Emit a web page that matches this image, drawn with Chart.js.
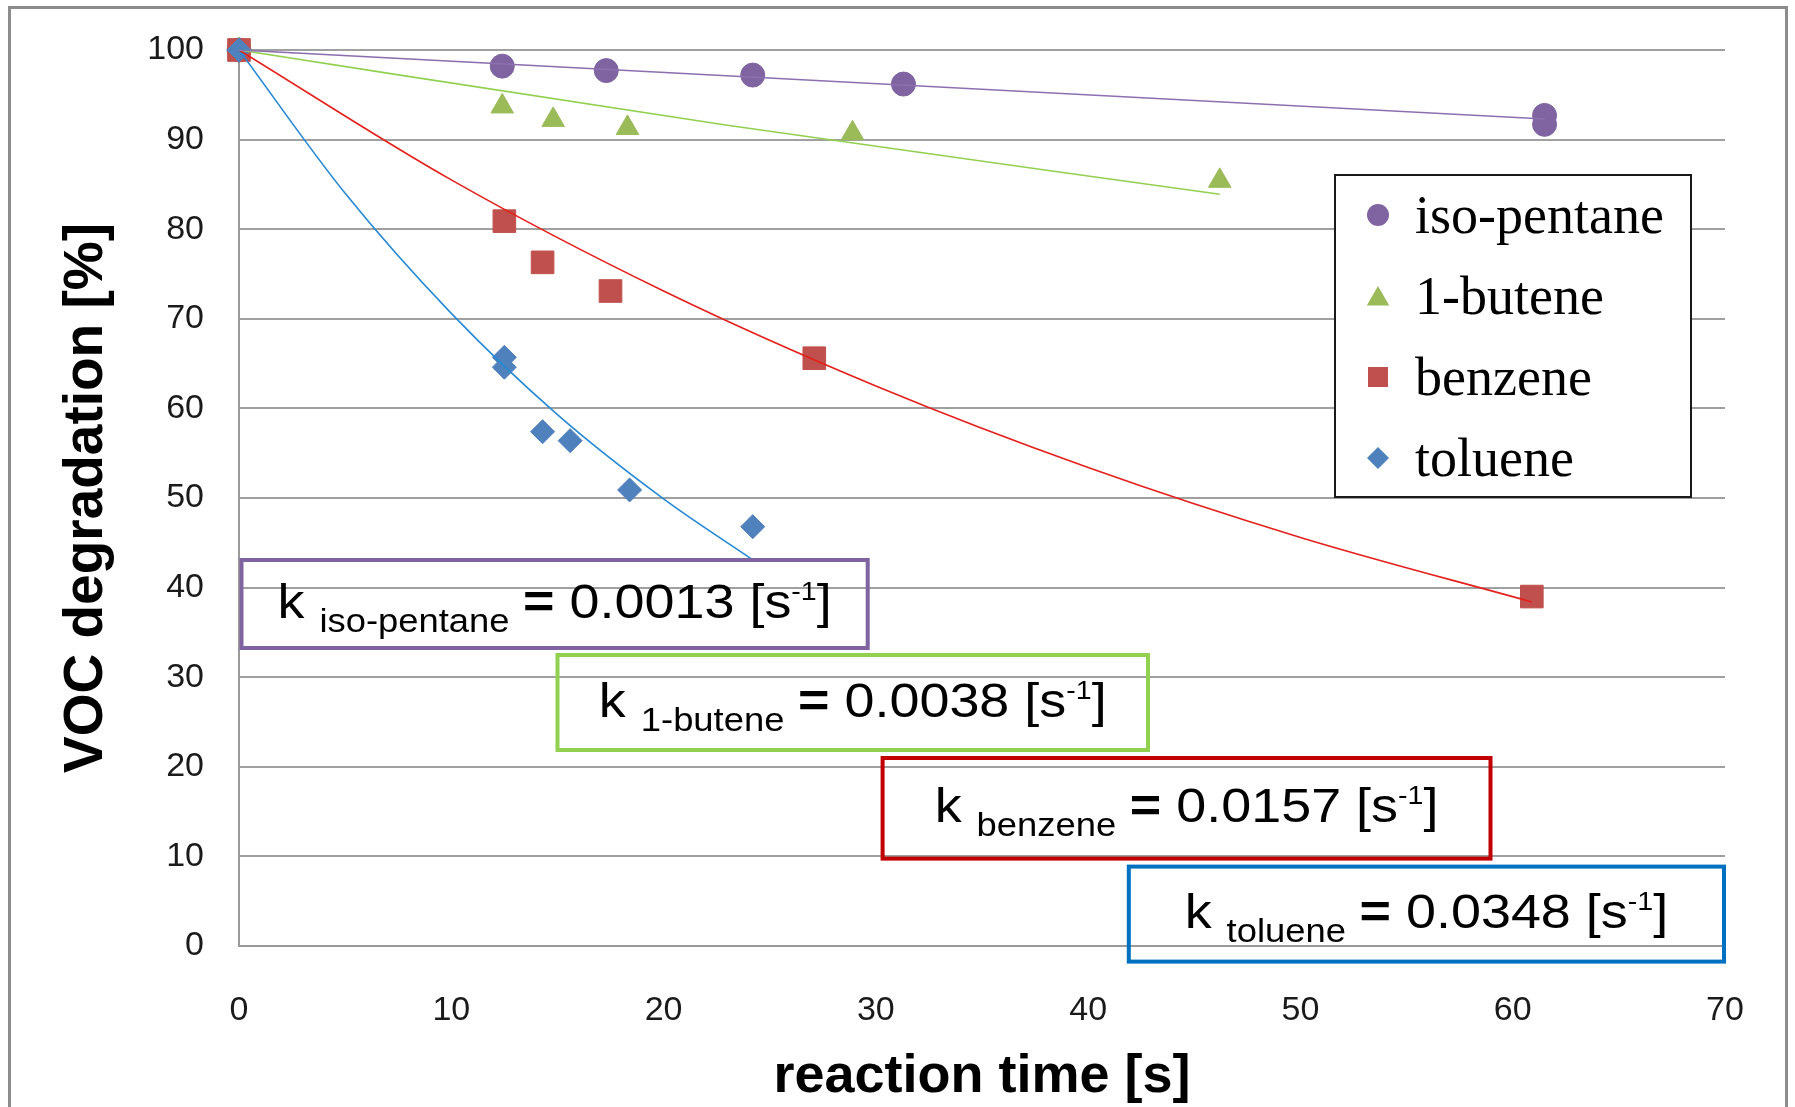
<!DOCTYPE html>
<html>
<head>
<meta charset="utf-8">
<script src="https://cdn.jsdelivr.net/npm/chart.js@4.4.1/dist/chart.umd.min.js"></script>
<style>
  html, body { margin: 0; padding: 0; background: #fff; }
</style>
</head>
<body>
<canvas id="vocChart" width="1795" height="1107"></canvas>
<script>
const seriesNames = ['iso-pentane', '1-butene', 'benzene', 'toluene'];

const isoPentaneTime = [0, 12.4, 17.3, 24.2, 31.3, 61.5, 61.5];
const isoPentaneDeg  = [100, 98.2, 97.7, 97.2, 96.2, 92.7, 91.7];

const buteneTime = [0, 12.4, 14.8, 18.3, 28.9, 46.2];
const buteneDeg  = [100, 93.7, 92.2, 91.3, 90.7, 85.4];

const benzeneTime = [0, 12.5, 14.3, 17.5, 27.1, 60.9];
const benzeneDeg  = [100, 80.9, 76.3, 73.1, 65.6, 39.0];

const tolueneTime = [0, 12.5, 12.5, 14.3, 15.6, 18.4, 24.2];
const tolueneDeg  = [100, 65.7, 64.6, 57.4, 56.4, 50.9, 46.8];

// trendlines, read at a few points along each drawn curve
const isoTrendTime = [0, 61.5];
const isoTrendDeg  = [100, 92.3];
const buteneTrendTime = [0, 23, 46.2];
const buteneTrendDeg  = [100, 91.6, 83.9];
const benzeneTrendTime = [0, 10, 20, 30, 40, 50, 60.9];
const benzeneTrendDeg  = [100, 85.5, 73.1, 62.5, 53.4, 45.6, 38.4];
const tolueneTrendTime = [0, 5, 10, 15, 20, 24.2];
const tolueneTrendDeg  = [100, 84.0, 70.6, 59.3, 49.9, 43.1];

// rate constants shown in the boxes
const rateConstants = ['0.0013', '0.0038', '0.0157', '0.0348'];

const xTickValues = [0, 10, 20, 30, 40, 50, 60, 70];
const yTickValues = [0, 10, 20, 30, 40, 50, 60, 70, 80, 90, 100];

const markerColors = ['#8064A2', '#9BBB59', '#C0504D', '#4F81BD'];
const trendColors = ['#8d6fb0', '#92D050', '#e3201c', '#2689d3'];
const boxColors = ['#8064A2', '#92D050', '#C00000', '#0070C0'];
const markerStyles = ['circle', 'triangle', 'rect', 'rectRot'];
const markerRadius = [12, 13, 16, 12];

const sansFont = '"Liberation Sans", Arial, sans-serif';
const serifFont = '"Liberation Serif", "Times New Roman", serif';

function toPoints(xs, ys) {
  return xs.map((x, i) => ({ x: x, y: ys[i] }));
}

const measured = [
  toPoints(isoPentaneTime, isoPentaneDeg),
  toPoints(buteneTime, buteneDeg),
  toPoints(benzeneTime, benzeneDeg),
  toPoints(tolueneTime, tolueneDeg)
];
const trends = [
  toPoints(isoTrendTime, isoTrendDeg),
  toPoints(buteneTrendTime, buteneTrendDeg),
  toPoints(benzeneTrendTime, benzeneTrendDeg),
  toPoints(tolueneTrendTime, tolueneTrendDeg)
];

// Chart.js draws the first dataset on top, so trendlines go first,
// then toluene .. iso-pentane (toluene diamond sits on top at t=0)
const datasets = [];
trends.forEach((pts, i) => {
  datasets.push({
    label: seriesNames[i] + ' fit',
    data: pts,
    showLine: true,
    borderColor: trendColors[i],
    borderWidth: 1.6,
    pointRadius: 0,
    cubicInterpolationMode: 'monotone',
    fill: false
  });
});
[3, 2, 1, 0].forEach(i => {
  datasets.push({
    label: seriesNames[i],
    data: measured[i],
    showLine: false,
    clip: false,
    pointStyle: markerStyles[i],
    pointRadius: markerRadius[i],
    backgroundColor: markerColors[i],
    borderColor: markerColors[i],
    borderWidth: 1
  });
});

// outer frame of the figure
const framePlugin = {
  id: 'frame',
  beforeDraw(chart) {
    const c = chart.ctx;
    c.save();
    c.fillStyle = '#fff';
    c.fillRect(0, 0, chart.width, chart.height);
    c.strokeStyle = '#8c8c8c';
    c.lineWidth = 3;
    c.strokeRect(9.5, 7.5, 1777, 1200);
    c.restore();
  }
};

// boxes with the rate constants
const kBoxes = [
  [241.5, 560, 867.7, 648],
  [557.5, 655, 1148, 750],
  [882.6, 758, 1490.5, 858.6],
  [1128.8, 866.6, 1724, 961.6]
];

function drawRateBox(c, i) {
  const [x1, y1, x2, y2] = kBoxes[i];
  c.save();
  c.strokeStyle = boxColors[i];
  c.lineWidth = 4;
  c.strokeRect(x1, y1, x2 - x1, y2 - y1);

  const cy = (y1 + y2) / 2;
  const parts = [
    { t: 'k ', size: 49, dy: 14, hs: 1.1 },
    { t: seriesNames[i], size: 34, dy: 28, hs: 1.07 },
    { t: ' ', size: 49, dy: 14, hs: 1.0 },
    { t: '=', size: 49, dy: 14, hs: 1.1, bold: true },
    { t: ' ' + rateConstants[i] + ' [s', size: 49, dy: 14, hs: 1.1 },
    { t: '-1', size: 26, dy: -4, hs: 1.1 },
    { t: ']', size: 49, dy: 14, hs: 1.1 }
  ];
  c.fillStyle = '#000';
  c.textBaseline = 'alphabetic';
  let total = 0;
  parts.forEach(p => {
    p.font = (p.bold ? 'bold ' : '') + p.size + 'px ' + sansFont;
    c.font = p.font;
    p.w = c.measureText(p.t).width * p.hs;
    total += p.w;
  });
  let x = (x1 + x2) / 2 - total / 2;
  parts.forEach(p => {
    c.font = p.font;
    c.save();
    c.translate(x, cy + p.dy);
    c.scale(p.hs, 1);
    c.fillText(p.t, 0, 0);
    c.restore();
    x += p.w;
  });
  c.restore();
}

function drawMarker(c, style, x, y, r) {
  c.beginPath();
  if (style === 'circle') {
    c.arc(x, y, r, 0, Math.PI * 2);
  } else if (style === 'triangle') {
    c.moveTo(x, y - r);
    c.lineTo(x + r * 0.866, y + r * 0.5);
    c.lineTo(x - r * 0.866, y + r * 0.5);
    c.closePath();
  } else if (style === 'rect') {
    c.rect(x - r, y - r, 2 * r, 2 * r);
  } else {
    c.moveTo(x, y - r);
    c.lineTo(x + r, y);
    c.lineTo(x, y + r);
    c.lineTo(x - r, y);
    c.closePath();
  }
  c.fill();
}

const overlayPlugin = {
  id: 'overlay',
  afterDatasetsDraw(chart) {
    const c = chart.ctx;
    for (let i = 0; i < 4; i++) drawRateBox(c, i);

    // legend
    c.save();
    c.fillStyle = '#fff';
    c.fillRect(1335, 175, 356, 322);
    c.strokeStyle = '#1a1a1a';
    c.lineWidth = 2;
    c.strokeRect(1335, 175, 356, 322);
    const sizes = [11, 13, 10, 11];
    seriesNames.forEach((name, i) => {
      const cy = 215 + i * 81;
      c.fillStyle = markerColors[i];
      drawMarker(c, markerStyles[i], 1378, i === 1 ? cy + 3 : cy, sizes[i]);
      c.fillStyle = '#000';
      c.font = '54px ' + serifFont;
      c.textBaseline = 'alphabetic';
      c.fillText(name, 1415, cy + 18);
    });
    c.restore();
  }
};

const ctx = document.getElementById('vocChart').getContext('2d');
new Chart(ctx, {
  type: 'scatter',
  data: { datasets: datasets },
  options: {
    responsive: false,
    animation: false,
    layout: { autoPadding: false, padding: { left: 0, right: 70, top: 50, bottom: 0 } },
    plugins: {
      legend: { display: false },
      tooltip: { enabled: false }
    },
    scales: {
      x: {
        type: 'linear',
        min: xTickValues[0],
        max: xTickValues[xTickValues.length - 1],
        afterBuildTicks: (scale) => { scale.ticks = xTickValues.map(v => ({ value: v })); },
        afterFit: (scale) => { scale.height = 161; },
        ticks: {
          color: '#1a1a1a',
          font: { family: sansFont, size: 34 },
          padding: 44
        },
        grid: { display: false, drawTicks: false },
        border: { display: true, color: '#9a9a9a', width: 2 },
        title: {
          display: true,
          text: 'reaction time [s]',
          color: '#000',
          font: { family: sansFont, size: 54, weight: 'bold' },
          padding: { top: 0, bottom: -3 }
        }
      },
      y: {
        min: yTickValues[0],
        max: yTickValues[yTickValues.length - 1],
        afterBuildTicks: (scale) => { scale.ticks = yTickValues.map(v => ({ value: v })); },
        afterFit: (scale) => { scale.width = 239; scale.paddingTop = 0; scale.paddingBottom = 0; },
        ticks: {
          color: '#1a1a1a',
          font: { family: sansFont, size: 34 },
          padding: 35
        },
        grid: { color: '#a0a0a0', lineWidth: 2, drawTicks: false },
        border: { display: true, color: '#9a9a9a', width: 2 },
        title: {
          display: true,
          text: 'VOC degradation [%]',
          color: '#000',
          font: { family: sansFont, size: 55, weight: 'bold' },
          padding: { top: 54, bottom: 0 }
        }
      }
    }
  },
  plugins: [framePlugin, overlayPlugin]
});
</script>
</body>
</html>
